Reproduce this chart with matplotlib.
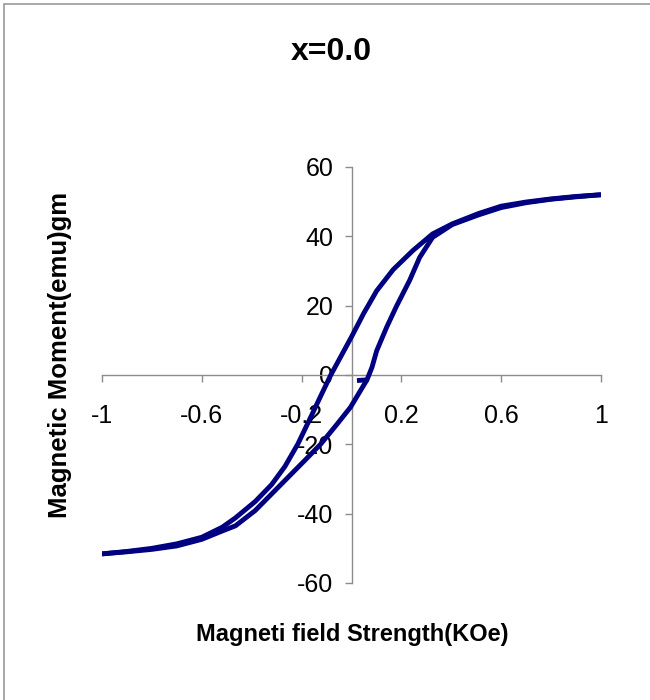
import matplotlib
matplotlib.use('Agg')
import matplotlib.pyplot as plt
from matplotlib.patches import Rectangle

# M-H loop, x=0.0 sample
# rising branch, starting from the small hook near the origin
h_up = [0.022, 0.062, 0.082, 0.101, 0.141, 0.180, 0.233, 0.273, 0.325,
        0.404, 0.51, 0.6, 0.7, 0.8, 0.9, 1.0]
m_up = [-1.6, -1.4, 2.2, 7.0, 13.8, 19.8, 27.3, 33.9, 39.7,
        43.4, 46.2, 48.3, 49.7, 50.7, 51.4, 52.0]

# falling branch, +1 -> -1
h_down = [1.0, 0.9, 0.8, 0.7, 0.6, 0.51, 0.404, 0.325, 0.246, 0.167, 0.101,
          0.049, 0.0, -0.043, -0.083, -0.123, -0.169, -0.215, -0.267, -0.32,
          -0.386, -0.465, -0.518, -0.6, -0.7, -0.8, -0.9, -1.0]
m_down = [52.0, 51.5, 50.8, 49.9, 48.7, 46.6, 43.6, 40.7, 35.9, 30.4, 24.3,
          17.8, 11.0, 5.3, 0.0, -6.0, -13.0, -19.9, -26.4, -31.6,
          -36.5, -41.2, -43.9, -46.8, -48.7, -50.0, -50.9, -51.6]

# rising again, -1 -> back to the hook
h_back = [-1.0, -0.9, -0.8, -0.7, -0.6, -0.518, -0.465, -0.386, -0.32, -0.254,
          -0.188, -0.123, -0.057, -0.004, 0.036, 0.062]
m_back = [-51.6, -51.0, -50.3, -49.3, -47.4, -45.0, -43.5, -39.1, -34.3, -29.5,
          -24.7, -19.9, -14.1, -9.3, -4.5, -1.4]

x_ticks = [-1, -0.6, -0.2, 0.2, 0.6, 1]
x_labels = ['-1', '-0.6', '-0.2', '0.2', '0.6', '1']
y_ticks = [-60, -40, -20, 0, 20, 40, 60]

plt.rcParams['font.family'] = ['Liberation Sans', 'DejaVu Sans']
plt.rcParams['axes.unicode_minus'] = False

fig = plt.figure(figsize=(6.5, 7), dpi=100)
ax = fig.add_axes([102 / 650, 1 - 583 / 700, 499 / 650, 416 / 700])

line_c = '#000080'
for hx, my in [(h_up, m_up), (h_down, m_down), (h_back, m_back)]:
    ax.plot(hx, my, color=line_c, lw=3.5, solid_capstyle='butt',
            solid_joinstyle='round', zorder=3)

ax.set_xlim(-1, 1)
ax.set_ylim(-60, 60)

# excel style axes crossing at the origin
ax.spines['left'].set_position(('data', 0))
ax.spines['bottom'].set_position(('data', 0))
ax.spines['right'].set_visible(False)
ax.spines['top'].set_visible(False)
for s in ['left', 'bottom']:
    ax.spines[s].set_color('#8c8c8c')
    ax.spines[s].set_linewidth(1.0)

ax.set_xticks(x_ticks)
ax.set_xticklabels(x_labels)
ax.set_yticks(y_ticks)
ax.tick_params(axis='x', direction='out', length=5, width=1, color='#8c8c8c',
               labelsize=18, pad=16)
ax.tick_params(axis='y', direction='out', length=5, width=1, color='#8c8c8c',
               labelsize=18, pad=8)

fig.text(331 / 650, 1 - 52 / 700, 'x=0.0', ha='center', va='center',
         fontsize=23, fontweight='bold')
fig.text(352 / 650, 1 - 635 / 700, 'Magneti field Strength(KOe)',
         ha='center', va='center', fontsize=17, fontweight='bold')
fig.text(60 / 650, 1 - 355 / 700, 'Magnetic Moment(emu)gm', ha='center',
         va='center', rotation=90, fontsize=18.5, fontweight='bold')

# thin frame around the chart area
fig.patches.append(Rectangle((4 / 650, -0.1), 1.2, 1 - 4 / 700 + 0.1,
                             transform=fig.transFigure, fill=False,
                             edgecolor='#9a9a9a', lw=1.2))

fig.savefig('out.png', dpi=100)
